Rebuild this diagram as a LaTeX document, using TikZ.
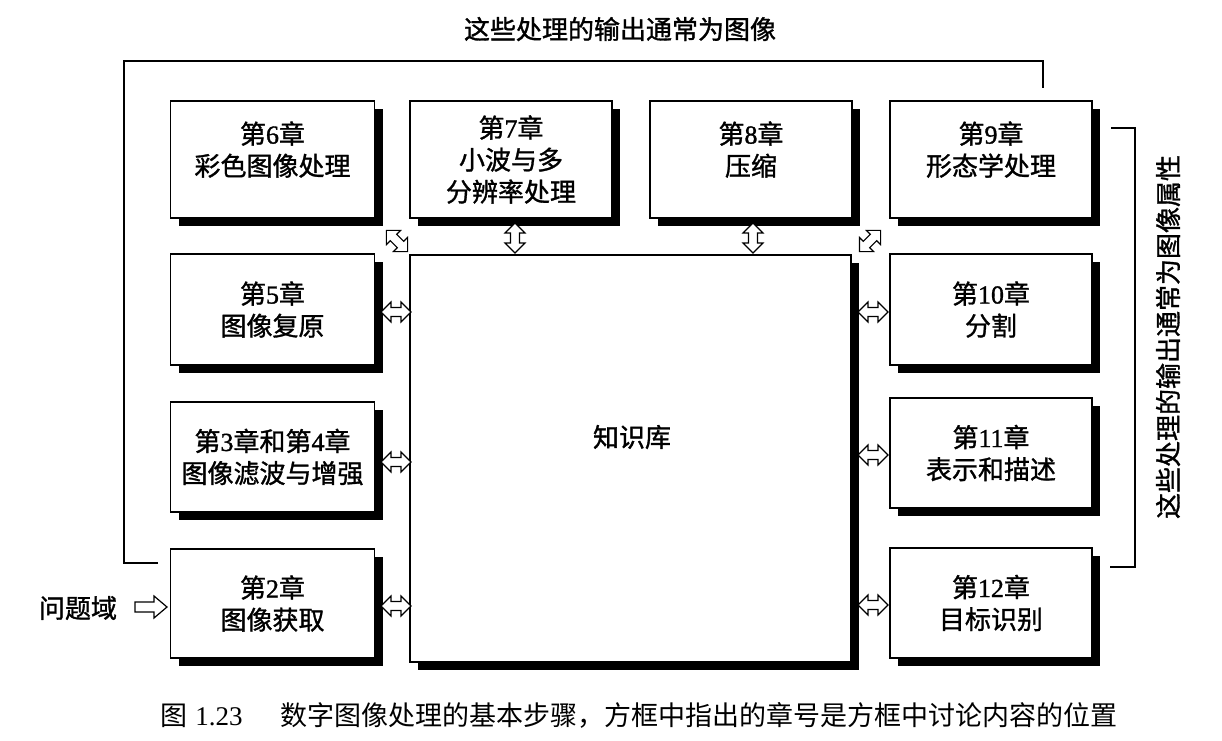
\documentclass[tikz,border=0pt]{standalone}
\usepackage{fontspec}
\setmainfont{Noto Sans CJK SC}
\newfontfamily\cjkb{Noto Sans CJK SC}[FakeBold=1.2]
\newfontfamily\lserif{Liberation Serif}
\newfontfamily\lserifb{Liberation Serif}[FakeBold=1.2]
\usetikzlibrary{calc}
\usetikzlibrary{shadows}
\begin{document}
\begin{tikzpicture}[x=0.5pt,y=-0.5pt,
  box/.style={draw, line width=0.8pt, fill=white, inner sep=0pt, align=center,
    font=\fontsize{13pt}{16pt}\cjkb,
    drop shadow={shadow xshift=4pt, shadow yshift=-4pt, opacity=1, fill=black}},
  raised/.style={text depth=11pt},
  lbl/.style={inner sep=0pt, font=\fontsize{13pt}{16pt}\cjkb},
  bracket/.style={draw, line width=0.7pt},
  dbl/.pic={\draw[fill=white, line width=0.6pt, line join=miter]
      (-15,0) -- (-5,-10) -- (-5,-4.5) -- (5,-4.5) -- (5,-10) -- (15,0)
      -- (5,10) -- (5,4.5) -- (-5,4.5) -- (-5,10) -- cycle;},
  sgl/.pic={\draw[fill=white, line width=0.6pt, line join=miter]
      (-16,-5) -- (3,-5) -- (3,-11) -- (16,0) -- (3,11) -- (3,5) -- (-16,5) -- cycle;}
]
\useasboundingbox (0,0) rectangle (1222,740);

% bracket lines (drawn first)
\coordinate (tl1) at (158,563);
\coordinate (tl2) at (124,563);
\coordinate (tl3) at (124,61);
\coordinate (tl4) at (1043,61);
\coordinate (tl5) at (1043,88);
\draw[bracket] (tl1) -- (tl2) -- (tl3) -- (tl4) -- (tl5);
\coordinate (rb1) at (1111,128);
\coordinate (rb2) at (1135,128);
\coordinate (rb3) at (1135,567);
\coordinate (rb4) at (1110,567);
\draw[bracket] (rb1) -- (rb2) -- (rb3) -- (rb4);

% top row
\node[box, raised, minimum width=102pt, minimum height=58.5pt] (b6) at (272.5,159.5) {第{\lserifb 6}章\\彩色图像处理};
\node[box, minimum width=101pt, minimum height=58.5pt] (b7) at (511,159.5) {第{\lserifb 7}章\\小波与多\\分辨率处理};
\node[box, raised, minimum width=101pt, minimum height=58.5pt] (b8) at (751,159.5) {第{\lserifb 8}章\\压缩};
\node[box, raised, minimum width=101pt, minimum height=58.5pt] (b9) at (991,159.5) {第{\lserifb 9}章\\形态学处理};

% left column
\node[box, minimum width=102pt, minimum height=55.5pt] (b5) at (272.5,309.5) {第{\lserifb 5}章\\图像复原};
\node[box, minimum width=102pt, minimum height=55pt] (b34) at (272.5,457) {第{\lserifb 3}章和第{\lserifb 4}章\\图像滤波与增强};
\node[box, minimum width=102pt, minimum height=54.5pt] (b2) at (272.5,603.5) {第{\lserifb 2}章\\图像获取};

% knowledge base
\node[box, minimum width=220.5pt, minimum height=203.5pt] (kb) at (630.5,458.5) {};
\node[lbl] (kbt) at (632,437) {知识库};

% right column
\node[box, minimum width=101pt, minimum height=55.5pt] (b10) at (991,309.5) {第{\lserifb 10}章\\分割};
\node[box, minimum width=101pt, minimum height=55pt] (b11) at (991,453) {第{\lserifb 11}章\\表示和描述};
\node[box, minimum width=101pt, minimum height=55pt] (b12) at (991,603) {第{\lserifb 12}章\\目标识别};

% double arrows
\pic at (396,312) {dbl};
\pic at (396,462) {dbl};
\pic at (396,606) {dbl};
\pic at (873,312) {dbl};
\pic at (873,455) {dbl};
\pic at (873,605) {dbl};
\pic[rotate=90] at (515,238) {dbl};
\pic[rotate=90] at (753,238) {dbl};
\pic[rotate=-45] at (397,241) {dbl};
\pic[rotate=45] at (870,241) {dbl};

% problem domain
\node[lbl] (pd) at (78,608) {问题域};
\pic at (151,607) {sgl};

% titles
\node[lbl] (top) at (620,29) {这些处理的输出通常为图像};
\node[lbl, rotate=90] (side) at (1168,337) {这些处理的输出通常为图像属性};
\node[inner sep=0pt, anchor=west, font=\fontsize{13.5pt}{16pt}\selectfont] (cap) at (160,715)
  {图\hspace{0.3em}{\lserif 1.23}\hspace{1.4em}数字图像处理的基本步骤，方框中指出的章号是方框中讨论内容的位置};
\end{tikzpicture}
\end{document}
